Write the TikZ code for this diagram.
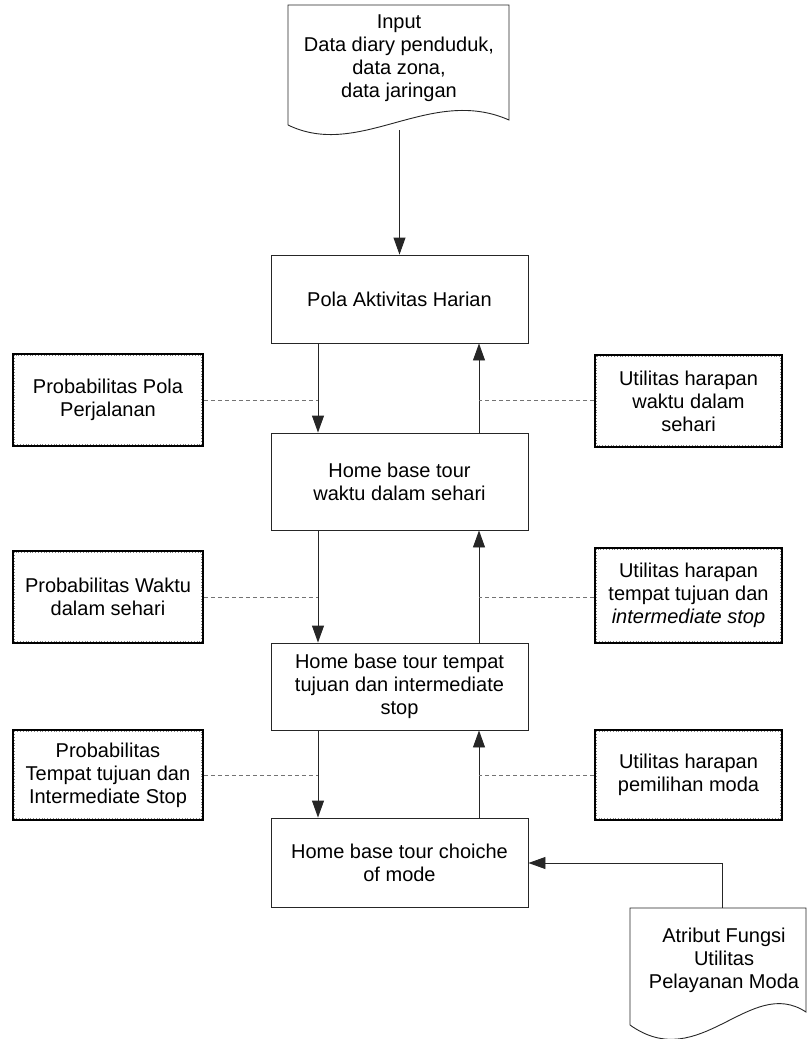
\documentclass[tikz,border=0pt]{standalone}
\usepackage{fontspec}
\setmainfont{Liberation Sans}
\usetikzlibrary{arrows.meta}
\begin{document}
\begin{tikzpicture}[x=1pt,y=-1pt,
  every node/.style={font=\fontsize{20}{23}\selectfont, align=center, inner sep=0pt},
  mainbox/.style={draw=black!85, line width=0.9pt, minimum width=257pt},
  sidebox/.style={draw=black, line width=1.8pt,
    append after command={\pgfextra{\draw[gray, line width=0.8pt, dotted]
      ([shift={(2.2pt,-2.2pt)}]\tikzlastnode.north west) rectangle
      ([shift={(-2.2pt,2.2pt)}]\tikzlastnode.south east);}}},
  docshape/.style={draw=black!85, line width=0.9pt},
  flow/.style={draw=black!85, line width=0.9pt, -{Triangle[length=17pt,width=12pt]}},
  dashline/.style={draw=black!55, line width=0.9pt, dash pattern=on 4pt off 3pt}
]
\useasboundingbox (0,0) rectangle (807,1039);

% Input document shape
\draw[docshape] (288,125) -- (288,5) -- (509,5) -- (509,120)
  .. controls (430,85) and (360,160) .. (288,125);
\node (input) at (399,58) {Input\\Data diary penduduk,\\data zona,\\data jaringan};
\coordinate (inbot) at (399.5,130);

% Main boxes
\node[mainbox, minimum height=88pt] (pola) at (399.5,299) {Pola Aktivitas Harian};
\node[mainbox, minimum height=97pt] (waktu) at (399.5,481.5) {Home base tour\\waktu dalam sehari};
\node[mainbox, minimum height=87pt] (tempat) at (399.5,686.5) {Home base tour tempat\\tujuan dan intermediate\\stop};
\node[mainbox, minimum height=89pt] (choice) at (399.5,862.5) {Home base tour choiche\\of mode};

% Side boxes left
\node[sidebox, minimum width=190pt, minimum height=92pt] (l1) at (108,400) {Probabilitas Pola\\Perjalanan};
\node[sidebox, minimum width=190pt, minimum height=92pt] (l2) at (108,597) {Probabilitas Waktu\\dalam sehari};
\node[sidebox, minimum width=190pt, minimum height=90pt] (l3) at (108,775) {Probabilitas\\Tempat tujuan dan\\Intermediate Stop};

% Side boxes right
\node[sidebox, minimum width=187pt, minimum height=92pt] (r1) at (688.5,401) {Utilitas harapan\\waktu dalam\\sehari};
\node[sidebox, minimum width=187pt, minimum height=95pt] (r2) at (688.5,595.5) {Utilitas harapan\\tempat tujuan dan\\\textit{intermediate stop}};
\node[sidebox, minimum width=187pt, minimum height=90pt] (r3) at (688.5,775) {Utilitas harapan\\pemilihan moda};

% Atribut document shape
\draw[docshape] (630,1025) -- (630,908) -- (806,908) -- (806,1012)
  .. controls (750,975) and (700,1075) .. (630,1025);
\node (atribut) at (724,960) {Atribut Fungsi\\Utilitas\\Pelayanan Moda};
\coordinate (attop) at (722,908);
\coordinate (atcorner) at (722,863);

% Flow connectors
\draw[flow] (inbot) -- (pola.north);
\draw[flow] (pola.south -| 318,0) -- (waktu.north -| 318,0);
\draw[flow] (waktu.south -| 318,0) -- (tempat.north -| 318,0);
\draw[flow] (tempat.south -| 318,0) -- (choice.north -| 318,0);
\draw[flow] (waktu.north -| 479,0) -- (pola.south -| 479,0);
\draw[flow] (tempat.north -| 479,0) -- (waktu.south -| 479,0);
\draw[flow] (choice.north -| 479,0) -- (tempat.south -| 479,0);
\draw[flow] (attop) -- (atcorner) -- (choice.east |- atcorner);

% Dashed connectors
\draw[dashline] (l1.east) -- (l1.east -| 318,0);
\draw[dashline] (r1.west |- l1.east) -- (l1.east -| 479,0);
\draw[dashline] (l2.east) -- (l2.east -| 318,0);
\draw[dashline] (r2.west |- l2.east) -- (l2.east -| 479,0);
\draw[dashline] (l3.east) -- (l3.east -| 318,0);
\draw[dashline] (r3.west) -- (r3.west -| 479,0);
\end{tikzpicture}
\end{document}
